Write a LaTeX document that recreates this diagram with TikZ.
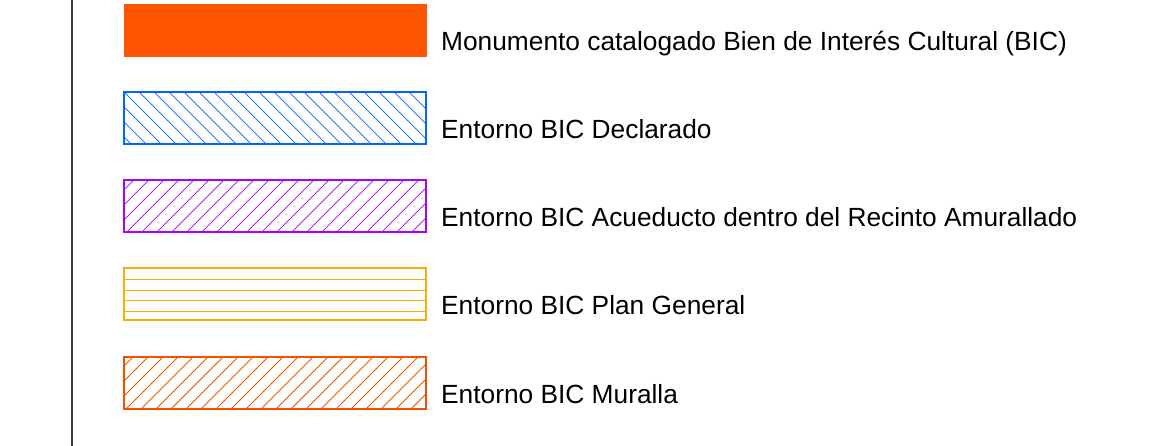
\documentclass[tikz,border=0pt]{standalone}
\usepackage{fontspec}
\setmainfont{Liberation Sans}
\definecolor{monu}{HTML}{FF5500}
\definecolor{bicblue}{HTML}{0066FF}
\definecolor{bicpurple}{HTML}{AA00FF}
\definecolor{bicyellow}{HTML}{FFAA00}
\definecolor{bicwall}{HTML}{F05000}
\definecolor{frameline}{HTML}{3C3C3C}
\begin{document}
\begin{tikzpicture}[x=1pt,y=-1pt,
  legbox/.style={rectangle,inner sep=0pt,minimum width=302pt,minimum height=52pt,line width=2pt},
  hatchline/.style={line width=0.8pt},
  legtext/.style={anchor=base west,inner sep=0pt,font=\fontsize{26.3}{30}\selectfont},
  hatchNE/.style={path picture={
      \foreach \k in {-5,...,22}
        \draw[hatchline,#1] ([xshift=\k*15pt+2.5pt]path picture bounding box.south west) -- ++(70pt,70pt);}},
  hatchSE/.style={path picture={
      \foreach \k in {-5,...,22}
        \draw[hatchline,#1] ([xshift=\k*15pt]path picture bounding box.north west) -- ++(70pt,-70pt);}},
  hatchH/.style={path picture={
      \foreach \k in {1,...,4}
        \draw[hatchline,#1] ([yshift=-\k*10.8pt]path picture bounding box.north west) -- ([yshift=-\k*10.8pt]path picture bounding box.north east);}}
]
\useasboundingbox (0,0) rectangle (1170,446);
\coordinate (vtop) at (72,0);
\coordinate (vbot) at (72,446);
\draw[frameline,line width=1.3pt] (vtop) -- (vbot);

\node[legbox,fill=monu,draw=monu,line width=0.5pt] (b1) at (275,30.3) {};
\node[legbox,draw=bicblue,hatchSE=bicblue] (b2) at (275,117.9) {};
\node[legbox,draw=bicpurple,hatchNE=bicpurple] (b3) at (275,206.4) {};
\node[legbox,draw=bicyellow,hatchH=bicyellow] (b4) at (275,294.5) {};
\node[legbox,draw=bicwall,hatchNE=bicwall] (b5) at (275,382.5) {};

\node[legtext] (t1) at (441,50.7) {Monumento catalogado Bien de Interés Cultural (BIC)};
\node[legtext] (t2) at (441,138.8) {Entorno BIC Declarado};
\node[legtext] (t3) at (441,226.7) {Entorno BIC Acueducto dentro del Recinto Amurallado};
\node[legtext] (t4) at (441,314.4) {Entorno BIC Plan General};
\node[legtext] (t5) at (441,403.2) {Entorno BIC Muralla};
\end{tikzpicture}
\end{document}
